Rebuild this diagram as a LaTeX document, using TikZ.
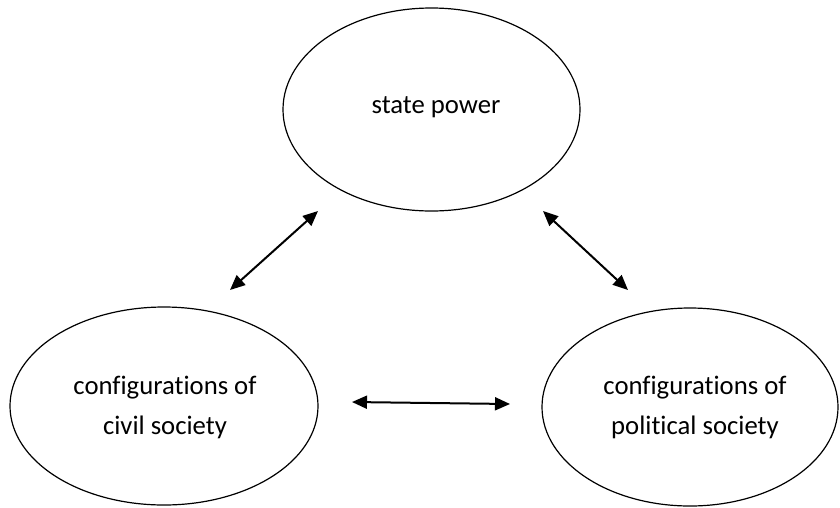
\documentclass[tikz,border=0pt]{standalone}
\usepackage{fontspec}
\setmainfont[Ligatures=NoCommon]{Carlito}
\usetikzlibrary{arrows.meta}
\begin{document}
\begin{tikzpicture}[x=1pt,y=-1pt,
  oval/.style={line width=1.2pt},
  link/.style={line width=2pt,{Triangle[length=15pt,width=13pt]}-{Triangle[length=15pt,width=13pt]}},
  lbl/.style={font=\fontsize{26.7}{40}\selectfont,align=center,text=black}]
\useasboundingbox (0,0) rectangle (840,507);
\draw[oval] (431.5,109.5) ellipse [x radius=148.5,y radius=101.5];
\draw[oval] (164,406) ellipse [x radius=154,y radius=99];
\draw[oval] (690,407) ellipse [x radius=148,y radius=99];
\node[lbl] (sp) at (436,107) {state power};
\node[lbl] (cs) at (165,407) {configurations of\\civil society};
\node[lbl] (ps) at (695,407) {configurations of\\political society};
\coordinate (a1) at (230,290);
\coordinate (a2) at (318,211);
\coordinate (b1) at (543,211);
\coordinate (b2) at (628,290);
\coordinate (c1) at (352,402);
\coordinate (c2) at (510,404);
\draw[link] (a1) -- (a2);
\draw[link] (b1) -- (b2);
\draw[link] (c1) -- (c2);
\end{tikzpicture}
\end{document}
